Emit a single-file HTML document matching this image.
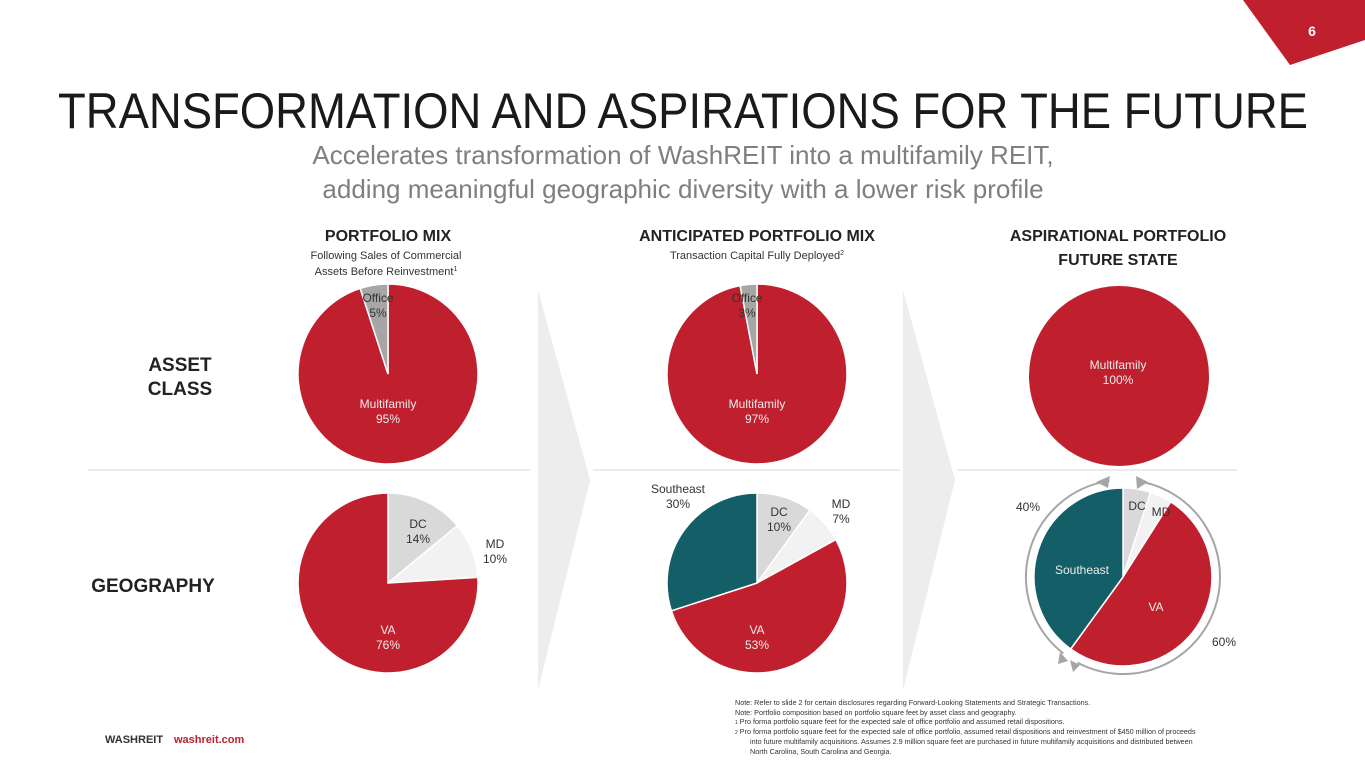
<!DOCTYPE html>
<html><head><meta charset="utf-8"><style>
html,body{margin:0;padding:0;background:#fff;}
svg{display:block;font-family:"Liberation Sans",Arial,sans-serif;}
</style></head><body>
<svg id="s" width="1365" height="768" viewBox="0 0 1365 768" xmlns="http://www.w3.org/2000/svg">
<polygon points="1243,0 1365,0 1365,40 1290,65" fill="#c01f2e"/>
<text x="1312" y="36" fill="#fff" font-size="14" font-weight="bold" text-anchor="middle">6</text>
<text x="58" y="128" font-size="50" fill="#1a1a1a" textLength="1250" lengthAdjust="spacingAndGlyphs">TRANSFORMATION AND ASPIRATIONS FOR THE FUTURE</text>
<text x="683" y="164" font-size="26" fill="#7f7f7f" text-anchor="middle">Accelerates transformation of WashREIT into a multifamily REIT,</text>
<text x="683" y="198" font-size="26" fill="#7f7f7f" text-anchor="middle">adding meaningful geographic diversity with a lower risk profile</text>

<polygon points="538,290 590,480 538,690" fill="#ededed"/>
<polygon points="903,290 955,480 903,690" fill="#ededed"/>
<g stroke="#d9d9d9" stroke-width="1">
<line x1="88" y1="470" x2="530" y2="470"/><line x1="593" y1="470" x2="900" y2="470"/><line x1="957" y1="470" x2="1237" y2="470"/>
</g>

<g font-weight="bold" font-size="16" fill="#222" text-anchor="middle">
<text x="388" y="241">PORTFOLIO MIX</text>
<text x="757" y="241">ANTICIPATED PORTFOLIO MIX</text>
<text x="1118" y="241">ASPIRATIONAL PORTFOLIO</text>
<text x="1118" y="265">FUTURE STATE</text>
<text x="180" y="371" font-size="19">ASSET</text>
<text x="180" y="395" font-size="19">CLASS</text>
<text x="153" y="592" font-size="19">GEOGRAPHY</text>
</g>
<g font-size="11" fill="#333" text-anchor="middle">
<text x="386" y="259">Following Sales of Commercial</text>
<text x="386" y="275">Assets Before Reinvestment<tspan font-size="7" dy="-4">1</tspan></text>
<text x="757" y="259">Transaction Capital Fully Deployed<tspan font-size="7" dy="-4">2</tspan></text>
</g>
<g id="pies"></g>
<g id="ring" fill="none" stroke="#a6a6a6" stroke-width="2"></g>
<g fill="#a6a6a6"><polygon points="1096,482 1110,476 1108,488"/><polygon points="1148,482 1136,476 1137,489"/><polygon points="1060,652 1068,661 1058,664"/><polygon points="1080,665 1070,660 1073,672"/></g>
<g font-size="12" fill="#333">
<text x="1028" y="511" text-anchor="middle">40%</text>
<text x="1224" y="646" text-anchor="middle">60%</text>
</g>

<text x="105" y="743" font-size="11" font-weight="bold" fill="#333">WASHREIT</text>
<text x="174" y="743" font-size="11" font-weight="bold" fill="#c01f2e">washreit.com</text>
<g font-size="7.2" fill="#333">
<text x="735" y="705">Note: Refer to slide 2 for certain disclosures regarding Forward-Looking Statements and Strategic Transactions.</text>
<text x="735" y="715">Note: Portfolio composition based on portfolio square feet by asset class and geography.</text>
<text x="735" y="724"><tspan font-size="5">1</tspan>  Pro forma portfolio square feet for the expected sale of office portfolio and assumed retail dispositions.</text>
<text x="735" y="734"><tspan font-size="5">2</tspan>  Pro forma portfolio square feet for the expected sale of office portfolio, assumed retail dispositions and reinvestment of $450 million of proceeds</text>
<text x="750" y="744">into future multifamily acquisitions. Assumes 2.9 million square feet are purchased in future multifamily acquisitions and distributed between</text>
<text x="750" y="754">North Carolina, South Carolina and Georgia.</text>
</g>
</svg>
<script>
var R='#c01f2e',G='#a6a6a6',L='#d9d9d9',M='#f2f2f2',T='#135e67';
var pies=[
 [388,374,90,[[95,R],[5,G]],[["Multifamily","95%",388,408,"#eee"],["Office","5%",378,302,"#333"]]],
 [757,374,90,[[97,R],[3,G]],[["Multifamily","97%",757,408,"#eee"],["Office","3%",747,302,"#333"]]],
 [1119,376,90,[[100,R]],[["Multifamily","100%",1118,369,"#eee"]]],
 [388,583,90,[[14,L],[10,M],[76,R]],[["DC","14%",418,528,"#333"],["MD","10%",495,548,"#333"],["VA","76%",388,634,"#eee"]]],
 [757,583,90,[[10,L],[7,M],[53,R],[30,T]],[["DC","10%",779,516,"#333"],["MD","7%",841,508,"#333"],["VA","53%",757,634,"#eee"],["Southeast","30%",678,493,"#333"]]],
 [1123,577,89,[[5,L],[4,M],[51,R],[40,T]],[["DC","",1137,510,"#333"],["MD","",1161,516,"#333"],["VA","",1156,611,"#eee"],["Southeast","",1082,574,"#eee"]]]
];
var g=document.getElementById('pies'),h='';
pies.forEach(function(p){
 var cx=p[0],cy=p[1],r=p[2],a=0;
 p[3].forEach(function(s){
  if(s[0]>=100){h+='<circle cx="'+cx+'" cy="'+cy+'" r="'+r+'" fill="'+s[1]+'"/>';return;}
  var a0=a*2*Math.PI/100,a1=(a+s[0])*2*Math.PI/100;a+=s[0];
  var x0=cx+r*Math.sin(a0),y0=cy-r*Math.cos(a0),x1=cx+r*Math.sin(a1),y1=cy-r*Math.cos(a1);
  h+='<path d="M'+cx+','+cy+'L'+x0+','+y0+'A'+r+','+r+' 0 '+(s[0]>50?1:0)+' 1 '+x1+','+y1+'Z" fill="'+s[1]+'" stroke="#fff" stroke-width="1.5"/>';
 });
 p[4].forEach(function(t){
  if(t[1]){h+='<text x="'+t[2]+'" y="'+t[3]+'" font-size="12" fill="'+t[4]+'" text-anchor="middle">'+t[0]+'</text><text x="'+t[2]+'" y="'+(t[3]+15)+'" font-size="12" fill="'+t[4]+'" text-anchor="middle">'+t[1]+'</text>';}
  else h+='<text x="'+t[2]+'" y="'+t[3]+'" font-size="12" fill="'+t[4]+'" text-anchor="middle">'+t[0]+'</text>';
 });
});
g.innerHTML=h;
function arc(cx,cy,r,d0,d1){var a0=d0*Math.PI/180,a1=d1*Math.PI/180;
 return '<path d="M'+(cx+r*Math.sin(a0))+','+(cy-r*Math.cos(a0))+'A'+r+','+r+' 0 '+((d1-d0)>180?1:0)+' 1 '+(cx+r*Math.sin(a1))+','+(cy-r*Math.cos(a1))+'"/>';}
document.getElementById('ring').innerHTML=arc(1123,577,97,9,208)+arc(1123,577,97,218,352);
</script>
</body></html>
